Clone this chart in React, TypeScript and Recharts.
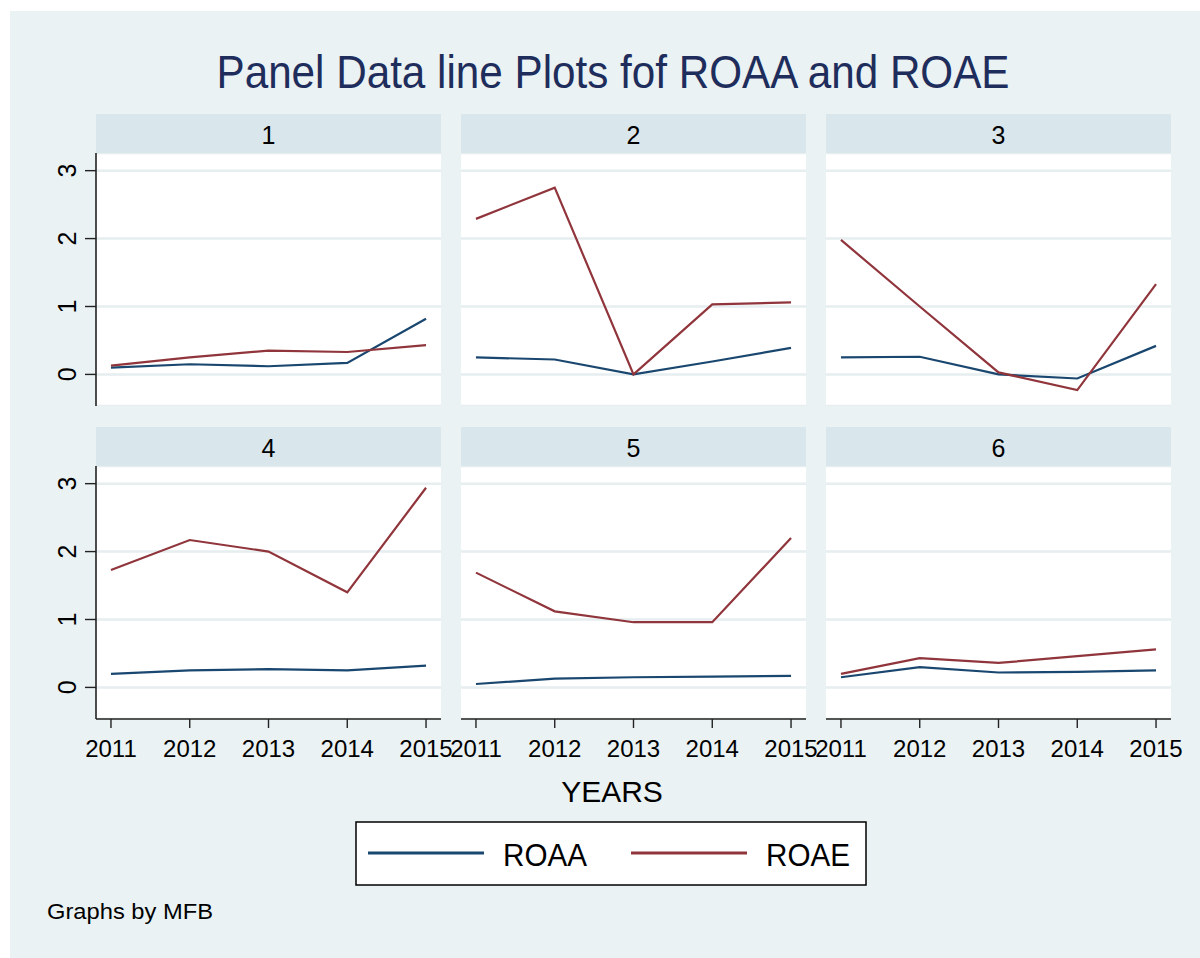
// Panel line plots of ROAA / ROAE, one small chart per bank (Stata-style grid)

import React from 'react'
import { LineChart, Line, XAxis, YAxis, CartesianGrid } from 'recharts'

const years = [2011, 2012, 2013, 2014, 2015]
const panelIds = [1, 2, 3, 4, 5, 6]
const seriesNames = ['ROAA', 'ROAE']
const seriesColors = ['#1a476f', '#90353b']

// ROAA per panel, by year
const roaa = [
  [0.1, 0.15, 0.12, 0.17, 0.82],
  [0.25, 0.22, 0.0, 0.19, 0.39],
  [0.25, 0.26, 0.0, -0.06, 0.42],
  [0.2, 0.25, 0.27, 0.25, 0.32],
  [0.05, 0.13, 0.15, 0.16, 0.17],
  [0.15, 0.3, 0.22, 0.23, 0.25],
]

// ROAE per panel, by year
const roae = [
  [0.13, 0.25, 0.35, 0.33, 0.43],
  [2.29, 2.75, 0.0, 1.03, 1.06],
  [1.98, 1.0, 0.03, -0.23, 1.33],
  [1.73, 2.17, 2.0, 1.4, 2.94],
  [1.69, 1.12, 0.96, 0.96, 2.2],
  [0.2, 0.43, 0.36, 0.46, 0.56],
]

const yTicks = [0, 1, 2, 3]

const FONT = '"Liberation Sans", Arial, Helvetica, sans-serif'
const colLeft = [96, 461, 826]
const rowTop = [153, 466]
const plotW = 345
const plotH = 253
const headerH = 39

function YTick(props: any) {
  const { x, y, payload } = props
  const tx = x - 7
  return (
    <text
      x={tx}
      y={y}
      transform={`rotate(-90, ${tx}, ${y})`}
      textAnchor="middle"
      fontSize={25}
      fontFamily={FONT}
      fill="#000"
    >
      {payload.value}
    </text>
  )
}

function Panel({ index }: { index: number }) {
  const col = index % 3
  const row = Math.floor(index / 3)
  const hasY = col === 0
  const hasX = row === 1
  const ml = hasY ? 50 : 30
  const mr = 30
  const data = years.map((year, i) => ({ year, ROAA: roaa[index][i], ROAE: roae[index][i] }))

  return (
    <div
      style={{
        position: 'absolute',
        left: colLeft[col] - ml,
        top: rowTop[row],
        width: ml + plotW + mr,
        height: plotH + (hasX ? 50 : 0),
      }}
    >
      <LineChart
        width={ml + plotW + mr}
        height={plotH + (hasX ? 50 : 0)}
        data={data}
        margin={{ top: 0, right: mr, bottom: 0, left: hasY ? 0 : ml }}
      >
        <CartesianGrid vertical={false} stroke="#e6eef0" strokeWidth={2.5} fill="#fff" fillOpacity={1} />
        <XAxis
          dataKey="year"
          type="number"
          domain={[2010.81, 2015.19]}
          ticks={years}
          hide={!hasX}
          height={50}
          tickSize={9}
          tickMargin={12}
          axisLine={{ stroke: '#222', strokeWidth: 1.6 }}
          tickLine={{ stroke: '#222', strokeWidth: 1.4 }}
          tick={{ fontSize: 24, fill: '#000', fontFamily: FONT }}
          allowDataOverflow
        />
        <YAxis
          type="number"
          domain={[-0.465, 3.26]}
          ticks={yTicks}
          hide={!hasY}
          width={50}
          tickSize={11}
          axisLine={{ stroke: '#222', strokeWidth: 1.6 }}
          tickLine={{ stroke: '#222', strokeWidth: 1.4 }}
          tick={<YTick />}
          allowDataOverflow
        />
        {seriesNames.map((name, i) => (
          <Line
            key={name}
            type="linear"
            dataKey={name}
            stroke={seriesColors[i]}
            strokeWidth={2.2}
            dot={false}
            activeDot={false}
            isAnimationActive={false}
          />
        ))}
      </LineChart>
    </div>
  )
}

export default function App() {
  return (
    <div
      style={{
        position: 'absolute',
        left: 0,
        top: 0,
        width: 1200,
        height: 958,
        background: '#fff',
        overflow: 'hidden',
        fontFamily: FONT,
      }}
    >
      <svg width={1200} height={958} style={{ position: 'absolute', left: 0, top: 0 }}>
        <rect x={10} y={11} width={1190} height={947} fill="#eaf2f3" />
        <text
          x={613}
          y={88}
          textAnchor="middle"
          fontSize={46}
          textLength={793}
          lengthAdjust="spacingAndGlyphs"
          fill="#1e2d5c"
          fontFamily={FONT}
        >
          Panel Data line Plots fof ROAA and ROAE
        </text>
        {panelIds.map((id, i) => {
          const col = i % 3
          const row = Math.floor(i / 3)
          const top = rowTop[row] - headerH
          return (
            <g key={id}>
              <rect x={colLeft[col]} y={top} width={plotW} height={headerH} fill="#d9e6eb" />
              <text
                x={colLeft[col] + plotW / 2}
                y={top + 30}
                textAnchor="middle"
                fontSize={25}
                fill="#000"
                fontFamily={FONT}
              >
                {id}
              </text>
            </g>
          )
        })}
        <text x={612} y={802} textAnchor="middle" fontSize={30} fill="#000" fontFamily={FONT}>
          YEARS
        </text>
        {/* legend */}
        <rect x={356} y={822} width={510} height={63} fill="#fff" stroke="#000" strokeWidth={1.5} />
        {seriesNames.map((name, i) => {
          const x0 = i === 0 ? 368 : 631
          return (
            <g key={name}>
              <line x1={x0} x2={x0 + 116} y1={853} y2={853} stroke={seriesColors[i]} strokeWidth={3} />
              <text x={x0 + 135} y={866} fontSize={31} textLength={84} lengthAdjust="spacingAndGlyphs" fill="#000" fontFamily={FONT}>
                {name}
              </text>
            </g>
          )
        })}
        <text x={47} y={919} fontSize={22} textLength={166} lengthAdjust="spacingAndGlyphs" fill="#000" fontFamily={FONT}>
          Graphs by MFB
        </text>
      </svg>
      {panelIds.map((id, i) => (
        <Panel key={id} index={i} />
      ))}
    </div>
  )
}
